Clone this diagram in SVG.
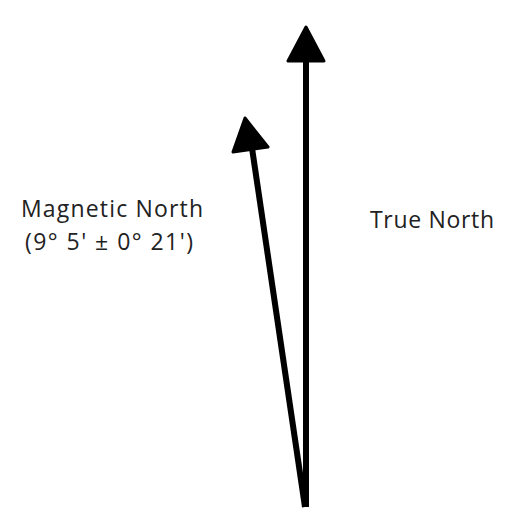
<svg xmlns="http://www.w3.org/2000/svg" width="508" height="519" viewBox="0 0 508 519">
<style>
.lbl{font-family:"Open Sans","Noto Sans","Liberation Sans",sans-serif;font-size:23px;fill:#222}
.shaft{stroke:#000;stroke-width:6;fill:none;stroke-linecap:butt}
.head{fill:#000;stroke:#000;stroke-width:3;stroke-linejoin:round}
</style>
<rect width="508" height="519" fill="#fff"/>
<g id="connectors">
<g id="true-north-arrow">
<line class="shaft" x1="306" y1="507" x2="306" y2="58"/>
<polygon class="head" points="306,27 324,61 288,61"/>
</g>
<g id="magnetic-north-arrow">
<line class="shaft" x1="305" y1="507" x2="252" y2="148"/>
<polygon class="head" points="245,118 268,147 233,152"/>
</g>
</g>
<g id="magnetic-label">
<text class="lbl" x="21" y="217" textLength="182" lengthAdjust="spacing">Magnetic North</text>
<text class="lbl" x="25" y="250" textLength="168" lengthAdjust="spacing">(9° 5' ± 0° 21')</text>
</g>
<g id="true-label">
<text class="lbl" x="370" y="228" textLength="124" lengthAdjust="spacing">True North</text>
</g>
</svg>
